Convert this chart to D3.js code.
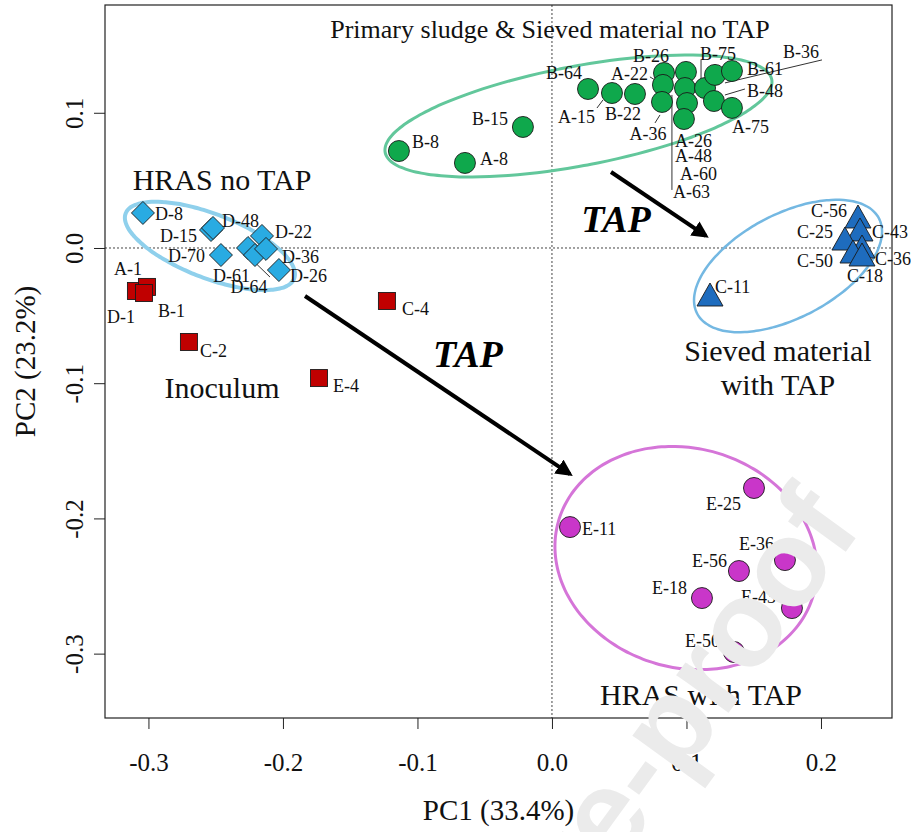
<!DOCTYPE html>
<html>
<head>
<meta charset="utf-8">
<script src="https://cdn.jsdelivr.net/npm/d3@7"></script>
<style>
  body { margin: 0; background: #fff; }
  svg text { font-family: "Liberation Serif", "Times New Roman", serif; }
</style>
</head>
<body>
<svg id="viz" width="911" height="832"></svg>
<script>
// PCA score plot: PC1 vs PC2, grouped by treatment

const xTicks = [-0.3, -0.2, -0.1, 0.0, 0.1, 0.2];
const yTicks = [0.1, 0.0, -0.1, -0.2, -0.3];

// Primary sludge & sieved material, no TAP (green circles)
const primary = [
  { id: "B-8", pc1: -0.1138, pc2: 0.0717 },
  { id: "A-8", pc1: -0.0647, pc2: 0.0629 },
  { id: "B-15", pc1: -0.0216, pc2: 0.0895 },
  { id: "B-64", pc1: 0.0268, pc2: 0.1176 },
  { id: "A-15", pc1: 0.0446, pc2: 0.1146 },
  { id: "B-22", pc1: 0.0617, pc2: 0.1139 },
  { id: "B-26", pc1: 0.0833, pc2: 0.1294 },
  { id: "A-22", pc1: 0.0825, pc2: 0.1206 },
  { id: "A-36", pc1: 0.0818, pc2: 0.1080 },
  { id: "A-63", pc1: 0.0996, pc2: 0.1302 },
  { id: "A-60", pc1: 0.0989, pc2: 0.1183 },
  { id: "A-48", pc1: 0.1004, pc2: 0.1072 },
  { id: "A-26", pc1: 0.0981, pc2: 0.0954 },
  { id: "B-75", pc1: 0.1138, pc2: 0.1183 },
  { id: "B-36", pc1: 0.1212, pc2: 0.1280 },
  { id: "B-61", pc1: 0.1338, pc2: 0.1309 },
  { id: "B-48", pc1: 0.1204, pc2: 0.1087 },
  { id: "A-75", pc1: 0.1338, pc2: 0.1036 }
];

// HRAS no TAP (blue diamonds)
const hrasNoTap = [
  { id: "D-8", pc1: -0.3041, pc2: 0.0259 },
  { id: "D-15", pc1: -0.2535, pc2: 0.0133 },
  { id: "D-48", pc1: -0.2520, pc2: 0.0148 },
  { id: "D-70", pc1: -0.2461, pc2: -0.0052 },
  { id: "D-22", pc1: -0.2156, pc2: 0.0089 },
  { id: "D-61", pc1: -0.2260, pc2: 0.0000 },
  { id: "D-64", pc1: -0.2208, pc2: -0.0052 },
  { id: "D-36", pc1: -0.2126, pc2: -0.0007 },
  { id: "D-26", pc1: -0.2030, pc2: -0.0163 }
];

// Inoculum (red squares)
const inoculum = [
  { id: "D-1", pc1: -0.3093, pc2: -0.0318 },
  { id: "A-1", pc1: -0.3011, pc2: -0.0288 },
  { id: "B-1", pc1: -0.3033, pc2: -0.0333 },
  { id: "C-2", pc1: -0.2699, pc2: -0.0695 },
  { id: "E-4", pc1: -0.1732, pc2: -0.0962 },
  { id: "C-4", pc1: -0.1227, pc2: -0.0392 }
];

// Sieved material with TAP (blue triangles)
const sievedTap = [
  { id: "C-11", pc1: 0.1175, pc2: -0.0370 },
  { id: "C-56", pc1: 0.2275, pc2: 0.0207 },
  { id: "C-43", pc1: 0.2290, pc2: 0.0111 },
  { id: "C-25", pc1: 0.2178, pc2: 0.0044 },
  { id: "C-36", pc1: 0.2305, pc2: -0.0015 },
  { id: "C-50", pc1: 0.2238, pc2: -0.0052 },
  { id: "C-18", pc1: 0.2305, pc2: -0.0074 }
];

// HRAS with TAP (magenta circles)
const hrasTap = [
  { id: "E-25", pc1: 0.1502, pc2: -0.1775 },
  { id: "E-11", pc1: 0.0134, pc2: -0.2064 },
  { id: "E-36", pc1: 0.1732, pc2: -0.2308 },
  { id: "E-56", pc1: 0.1390, pc2: -0.2389 },
  { id: "E-18", pc1: 0.1115, pc2: -0.2589 },
  { id: "E-43", pc1: 0.1784, pc2: -0.2663 },
  { id: "E-50", pc1: 0.1353, pc2: -0.2988 }
];

// group ellipses in data units: centre, radii, rotation (deg)
const ellipses = [
  { cx: 0.0197, cy: 0.0976, rx: 0.1462, ry: 0.0368, angle: 10.6, color: "#62c79b", width: 3 },
  { cx: -0.2543, cy: 0.0015, rx: 0.0671, ry: 0.0237, angle: -21, color: "#8fd0ec", width: 4 },
  { cx: 0.1755, cy: -0.0133, rx: 0.0762, ry: 0.0384, angle: 27.5, color: "#74b8e2", width: 2.5 },
  { cx: 0.0996, cy: -0.2293, rx: 0.0986, ry: 0.0811, angle: -16, color: "#d575d8", width: 3 }
];

// TAP arrows in data units
const arrows = [
  { x1: 0.0439, y1: 0.0562, x2: 0.1145, y2: 0.0089 },
  { x1: -0.1836, y1: -0.0355, x2: 0.0134, y2: -0.1672 }
];

const groupLabels = [
  { text: "Primary sludge & Sieved material no TAP", x: -0.0015, y: 0.1552, size: 26 },
  { text: "HRAS no TAP", x: -0.2453, y: 0.0429, size: 30 },
  { text: "Inoculum", x: -0.2453, y: -0.1109, size: 30 },
  { text: "Sieved material", x: 0.1680, y: -0.0836, size: 30 },
  { text: "with TAP", x: 0.1680, y: -0.1087, size: 30 },
  { text: "HRAS with TAP", x: 0.1108, y: -0.3380, size: 30 }
];

const tapLabels = [
  { text: "TAP", x: 0.0476, y: 0.0118 },
  { text: "TAP", x: -0.0625, y: -0.0880 }
];

// label placement: [dx, dy, anchor] in px from the mark
const labelPos = {
  "B-8": [13, -3, "start"], "A-8": [15, 2, "start"], "B-15": [-15, -2, "end"],
  "B-64": [-6, -10, "end"], "A-15": [-17, 30, "end"], "B-22": [-12, 26, "middle"],
  "A-22": [-15, -5, "end"], "B-26": [-13, -11, "middle"], "A-36": [-14, 38, "middle"],
  "B-75": [13, -28, "middle"], "B-61": [15, 4, "start"], "B-36": [68, -17, "start"],
  "B-48": [33, -4, "start"], "A-75": [0, 25, "start"],
  "A-26": [-9, 28, "start"], "A-48": [-12, 59, "start"], "A-60": [-5, 92, "start"], "A-63": [-13, 126, "start"],
  "D-8": [12, 7, "start"], "D-48": [9, -1, "start"], "D-15": [-14, 12, "end"], "D-70": [-16, 7, "end"],
  "D-22": [13, 2, "start"], "D-36": [16, 14, "start"], "D-26": [11, 12, "start"],
  "D-61": [2, 34, "end"], "D-64": [-6, 38, "middle"],
  "A-1": [-5, -12, "end"], "B-1": [14, 24, "start"], "D-1": [-1, 32, "end"],
  "C-2": [11, 15, "start"], "E-4": [14, 14, "start"], "C-4": [15, 14, "start"],
  "C-11": [5, -5, "start"], "C-56": [-11, -3, "end"], "C-25": [-12, -4, "end"],
  "C-43": [12, 5, "start"], "C-36": [13, 15, "start"], "C-50": [-20, 12, "end"], "C-18": [-15, 24, "start"],
  "E-25": [-13, 22, "end"], "E-11": [12, 8, "start"], "E-36": [-11, -10, "end"],
  "E-56": [-12, -4, "end"], "E-18": [-15, -4, "end"], "E-43": [-16, -5, "end"], "E-50": [-14, -5, "end"]
};

// leader lines: [id, dx1, dy1, dx2, dy2] px from the mark
const leaders = [
  ["A-15", -15, 15, -9, 7], ["A-22", -13, -8, -8, -5], ["A-36", -2, 13, -7, 21],
  ["B-75", -4, -28, -4, -10], ["B-36", 10, 8, 107, -15], ["B-48", 11, -6, 31, -12],
  ["A-63", -14, 23, -14, 118], ["D-64", -15, -7, 15, 22]
];

const svg = d3.select("#viz");
const x = d3.scaleLinear().domain([-0.3323, 0.2528]).range([105, 892]);
const y = d3.scaleLinear().domain([-0.3476, 0.1797]).range([718, 5]);

svg.append("rect").attr("width", 911).attr("height", 832).attr("fill", "#fff");

// zero reference lines
svg.append("line")
  .attr("x1", x(0)).attr("x2", x(0)).attr("y1", y.range()[1]).attr("y2", y.range()[0])
  .attr("stroke", "#444").attr("stroke-width", 1).attr("stroke-dasharray", "2,2");
svg.append("line")
  .attr("x1", x.range()[0]).attr("x2", x.range()[1]).attr("y1", y(0)).attr("y2", y(0))
  .attr("stroke", "#444").attr("stroke-width", 1).attr("stroke-dasharray", "2,2");

// axes
const fmt = d => d.toFixed(1);
const xAxis = svg.append("g")
  .attr("transform", `translate(0,${y.range()[0]})`)
  .call(d3.axisBottom(x).tickValues(xTicks).tickFormat(fmt).tickSize(11).tickSizeOuter(0).tickPadding(24));
xAxis.select(".domain").remove();
xAxis.selectAll("line").attr("stroke", "#222");
xAxis.selectAll("text").attr("font-size", "25px").attr("fill", "#111")
  .style("font-family", "Liberation Serif");

const yAxis = svg.append("g")
  .attr("transform", `translate(${x.range()[0]},0)`)
  .call(d3.axisLeft(y).tickValues(yTicks).tickFormat(() => "").tickSize(11).tickSizeOuter(0));
yAxis.select(".domain").remove();
yAxis.selectAll("line").attr("stroke", "#222");
yAxis.selectAll(".tick").append("text")
  .attr("transform", "translate(-22,0) rotate(-90)")
  .attr("text-anchor", "middle")
  .attr("font-size", "25px")
  .attr("fill", "#111")
  .style("font-family", "Liberation Serif")
  .text(fmt);

// box
svg.append("rect")
  .attr("x", x.range()[0]).attr("y", y.range()[1])
  .attr("width", x.range()[1] - x.range()[0])
  .attr("height", y.range()[0] - y.range()[1])
  .attr("fill", "none").attr("stroke", "#222").attr("stroke-width", 1.2);

// axis titles
svg.append("text")
  .attr("x", (x.range()[0] + x.range()[1]) / 2).attr("y", 820)
  .attr("text-anchor", "middle").attr("font-size", "29px").attr("fill", "#111")
  .text("PC1 (33.4%)");
svg.append("text")
  .attr("transform", `translate(35,${(y.range()[0] + y.range()[1]) / 2}) rotate(-90)`)
  .attr("text-anchor", "middle").attr("font-size", "29px").attr("fill", "#111")
  .text("PC2 (23.2%)");

// ellipses
const ellipsePath = e => {
  const a = e.angle * Math.PI / 180;
  const pts = d3.range(0, 361, 3).map(t => {
    const r = t * Math.PI / 180;
    const ex = e.rx * Math.cos(r), ey = e.ry * Math.sin(r);
    return [x(e.cx + ex * Math.cos(a) - ey * Math.sin(a)), y(e.cy + ex * Math.sin(a) + ey * Math.cos(a))];
  });
  return d3.line().curve(d3.curveCardinalClosed)(pts.slice(0, -1));
};
svg.selectAll("path.ell").data(ellipses).enter().append("path")
  .attr("class", "ell")
  .attr("d", ellipsePath)
  .attr("fill", "none")
  .attr("stroke", d => d.color)
  .attr("stroke-width", d => d.width);

// arrows
svg.append("defs").append("marker")
  .attr("id", "head").attr("viewBox", "0 0 10 10")
  .attr("refX", 8).attr("refY", 5)
  .attr("markerWidth", 4.2).attr("markerHeight", 4.2)
  .attr("orient", "auto")
  .append("path").attr("d", "M0,0 L10,5 L0,10 Z").attr("fill", "#000");
arrows.forEach(a => {
  svg.append("line")
    .attr("x1", x(a.x1)).attr("y1", y(a.y1)).attr("x2", x(a.x2)).attr("y2", y(a.y2))
    .attr("stroke", "#000").attr("stroke-width", 4)
    .attr("marker-end", "url(#head)");
});

// leader lines
const allPts = {};
[primary, hrasNoTap, inoculum, sievedTap, hrasTap].forEach(g => g.forEach(p => { allPts[p.id] = p; }));
leaders.forEach(([id, dx1, dy1, dx2, dy2]) => {
  const p = allPts[id];
  svg.append("line")
    .attr("x1", x(p.pc1) + dx1).attr("y1", y(p.pc2) + dy1)
    .attr("x2", x(p.pc1) + dx2).attr("y2", y(p.pc2) + dy2)
    .attr("stroke", "#333").attr("stroke-width", 1);
});

// marks
const drawGroup = (data, shape, fill) => {
  const g = svg.append("g");
  data.forEach(p => {
    const cx = x(p.pc1), cy = y(p.pc2);
    if (shape === "circle") {
      g.append("circle").attr("cx", cx).attr("cy", cy).attr("r", 10.5)
        .attr("fill", fill).attr("stroke", "#1a1a1a").attr("stroke-width", 0.9);
    } else if (shape === "square") {
      g.append("rect").attr("x", cx - 8.5).attr("y", cy - 8.5).attr("width", 17).attr("height", 17)
        .attr("fill", fill).attr("stroke", "#1a1a1a").attr("stroke-width", 0.9);
    } else if (shape === "diamond") {
      g.append("path").attr("d", `M${cx},${cy - 11.5}L${cx + 11.5},${cy}L${cx},${cy + 11.5}L${cx - 11.5},${cy}Z`)
        .attr("fill", fill).attr("stroke", "#1a1a1a").attr("stroke-width", 0.9);
    } else {
      g.append("path").attr("d", `M${cx},${cy - 15}L${cx + 13},${cy + 8}L${cx - 13},${cy + 8}Z`)
        .attr("fill", fill).attr("stroke", "#1a1a1a").attr("stroke-width", 0.9);
    }
  });
  data.forEach(p => {
    const [dx, dy, anchor] = labelPos[p.id];
    g.append("text")
      .attr("x", x(p.pc1) + dx).attr("y", y(p.pc2) + dy)
      .attr("text-anchor", anchor)
      .attr("font-size", "18px").attr("fill", "#111")
      .text(p.id);
  });
};
drawGroup(primary, "circle", "#0fa84c");
drawGroup(hrasNoTap, "diamond", "#29abe2");
drawGroup(inoculum, "square", "#c00000");
drawGroup(sievedTap, "triangle", "#1e6cbe");
drawGroup(hrasTap, "circle", "#c936c9");

// group names
svg.selectAll("text.grp").data(groupLabels).enter().append("text")
  .attr("class", "grp")
  .attr("x", d => x(d.x)).attr("y", d => y(d.y))
  .attr("text-anchor", "middle")
  .attr("font-size", d => d.size + "px").attr("fill", "#111")
  .text(d => d.text);

svg.selectAll("text.tap").data(tapLabels).enter().append("text")
  .attr("class", "tap")
  .attr("x", d => x(d.x)).attr("y", d => y(d.y))
  .attr("text-anchor", "middle")
  .attr("font-size", "38px").attr("font-weight", "bold").attr("font-style", "italic")
  .attr("fill", "#000")
  .text(d => d.text);

// journal watermark
svg.append("text")
  .attr("transform", "translate(863,528) rotate(-54)")
  .attr("text-anchor", "end")
  .attr("font-size", "122px")
  .attr("font-weight", "bold")
  .attr("fill", "#ebebeb")
  .style("font-family", "Liberation Sans")
  .text("Journal Pre-proof");
</script>
</body>
</html>
